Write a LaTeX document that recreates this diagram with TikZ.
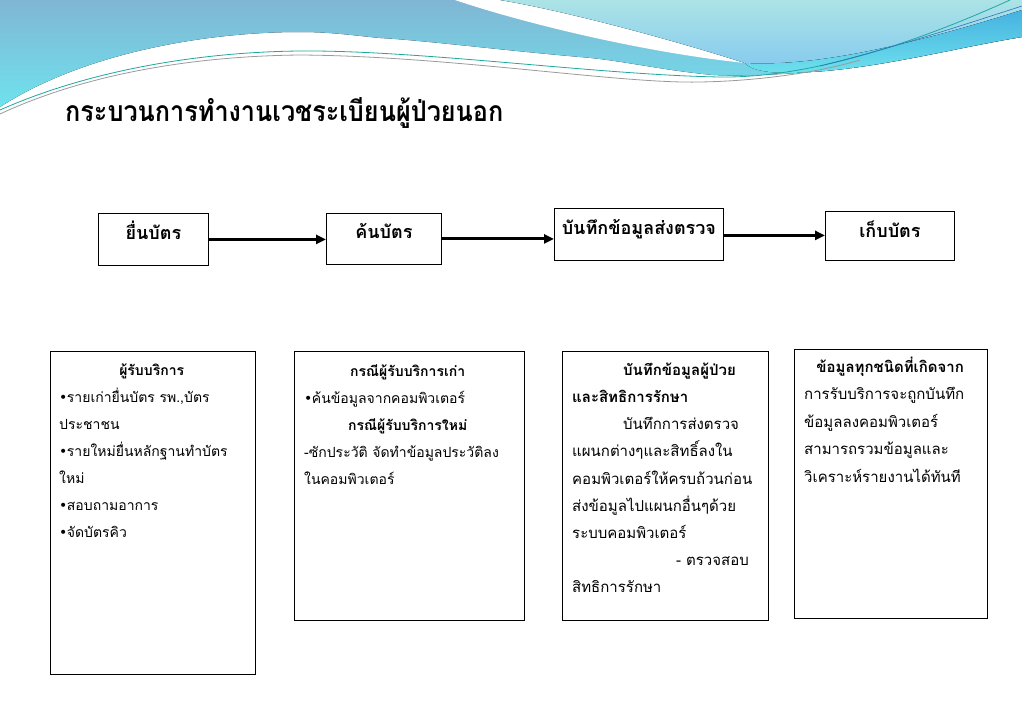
\documentclass[tikz,border=0pt]{standalone}
\usepackage{fontspec}
\usetikzlibrary{arrows.meta,calc}
\newfontfamily\thai[Script=Thai]{Loma}
\newfontfamily\bul{DejaVu Sans}
\newcommand\ctr[1]{\makebox[\hsize][c]{#1}}
\newcommand\blt{{\bul •}\hspace{-0.5pt}}
\definecolor{waveA}{HTML}{80B6D3}
\definecolor{waveB}{HTML}{6FE2EE}
\definecolor{waveC}{HTML}{ACE3E6}
\definecolor{waveD}{HTML}{86CBEE}
\definecolor{waveE}{HTML}{45B2E0}
\definecolor{lineteal}{HTML}{1FA89E}
\definecolor{lineblue}{HTML}{2F74B8}
\definecolor{linegrey}{HTML}{9A9A9A}
\tikzset{
  box/.style={draw=black, line width=0.8pt, fill=white, inner sep=0pt, anchor=north west},
  toplbl/.style={font=\thai\bfseries\fontsize{18}{20}\selectfont, inner sep=0pt, anchor=base},
  body/.style={font=\thai\fontsize{14}{27}\selectfont, align=left, inner sep=0pt, anchor=north west},
  flow/.style={line width=3pt, -{Triangle[length=10pt,width=9pt]}},
}
\begin{document}
\begin{tikzpicture}[x=1pt,y=-1pt]
\useasboundingbox (0,0) rectangle (1022,726);
\fill[white] (0,0) rectangle (1022,726);
% background waves
\fill[top color=waveA, bottom color=waveB] (0,0) -- (1022,0) -- (1022,37)
  .. controls (960,47) and (880,68) .. (811,72)
  .. controls (760,76) and (730,76) .. (713,75)
  .. controls (660,70) and (620,60) .. (580,57)
  .. controls (500,50) and (420,40) .. (380,38)
  .. controls (350,35) and (330,32) .. (300,32)
  .. controls (200,32) and (80,55) .. (0,107) -- cycle;
\fill[white] (455,0) .. controls (520,22) and (640,52) .. (745,63)
  .. controls (660,36) and (560,10) .. (500,0) -- cycle;
\fill[top color=waveC, bottom color=waveD] (500,0)
  .. controls (560,10) and (660,36) .. (745,63)
  .. controls (800,66) and (880,55) .. (1022,10) -- (1022,0) -- cycle;
\fill[top color=waveE, bottom color=waveB] (745,63)
  .. controls (800,66) and (880,55) .. (1022,10) -- (1022,37)
  .. controls (960,47) and (880,68) .. (811,72)
  .. controls (770,75) and (750,70) .. (745,63) -- cycle;
\draw[linegrey, line width=0.8pt] (0,114) .. controls (90,72) and (200,56) .. (300,55)
  .. controls (450,56) and (620,84) .. (700,82)
  .. controls (760,81) and (820,72) .. (860,60);
\draw[lineteal, line width=0.8pt] (0,110) .. controls (90,70) and (200,52) .. (300,51)
  .. controls (420,50) and (600,75) .. (720,77)
  .. controls (800,78) and (900,50) .. (1010,0);
\draw[lineblue, line width=0.6pt] (820,66) .. controls (900,46) and (960,26) .. (1022,6);
% title
\node[anchor=base west, inner sep=0pt] (title) at (65,121)
  {\resizebox{438pt}{24pt}{\thai\bfseries กระบวนการทำงานเวชระเบียนผู้ป่วยนอก}};
% top flow
\node[box, minimum width=110pt, minimum height=52pt] (k1) at (98,213) {};
\node[box, minimum width=115pt, minimum height=51pt] (k2) at (326,213) {};
\node[box, minimum width=169pt, minimum height=52pt] (k3) at (554,208) {};
\node[box, minimum width=129pt, minimum height=49pt] (k4) at (825,211) {};
\node[toplbl] (k1t) at (k1.center) {ยื่นบัตร};
\node[toplbl] (k2t) at (k2.center) {ค้นบัตร};
\node[toplbl] (k3t) at (k3.center) {บันทึกข้อมูลส่งตรวจ};
\node[toplbl] (k4t) at ([yshift=-2pt]k4.center) {เก็บบัตร};
\draw[flow] (k1.east) -- (k1.east -| k2.west);
\draw[flow] (k2.east) -- (k2.east -| k3.west);
\draw[flow] ([yshift=-1pt]k3.east) -- ([yshift=-1pt]k3.east -| k4.west);
% bottom boxes
\node[box, minimum width=205pt, minimum height=323pt] (b1) at (50,351) {};
\node[box, minimum width=230pt, minimum height=269pt] (b2) at (294,351) {};
\node[box, minimum width=206pt, minimum height=269pt] (b3) at (562,351) {};
\node[box, minimum width=193pt, minimum height=269pt] (b4) at (794,349) {};
\node[body, text width=185pt] (b1t) at (59,356.1) {\strut\ctr{\bfseries ผู้รับบริการ}\\
\blt รายเก่ายื่นบัตร~รพ.,บัตร\\
ประชาชน\\
\blt รายใหม่ยื่นหลักฐานทำบัตร\\
ใหม่\\
\blt สอบถามอาการ\\
\blt จัดบัตรคิว};
\node[body, text width=207pt] (b2t) at (304,357.1) {\strut\ctr{\bfseries กรณีผู้รับบริการเก่า}\\
\blt ค้นข้อมูลจากคอมพิวเตอร์\\
\ctr{\bfseries กรณีผู้รับบริการใหม่}\\
-ซักประวัติ~จัดทำข้อมูลประวัติลง\\
ในคอมพิวเตอร์};
\node[body, text width=194pt, font=\thai\fontsize{15}{27.2}\selectfont] (b3t) at (572,356.1) {\strut\hspace*{51pt}{\bfseries บันทึกข้อมูลผู้ป่วย}\\
{\bfseries และสิทธิการรักษา}\\
\hspace*{51pt}บันทึกการส่งตรวจ\\
แผนกต่างๆและสิทธิ์ลงใน\\
คอมพิวเตอร์ให้ครบถ้วนก่อน\\
ส่งข้อมูลไปแผนกอื่นๆด้วย\\
ระบบคอมพิวเตอร์\\
\hspace*{104pt}-~ตรวจสอบ\\
สิทธิการรักษา};
\node[body, text width=172pt, font=\thai\fontsize{15}{27.5}\selectfont] (b4t) at (804,353) {\strut\ctr{\bfseries ข้อมูลทุกชนิดที่เกิดจาก}\\
การรับบริการจะถูกบันทึก\\
ข้อมูลลงคอมพิวเตอร์\\
สามารถรวมข้อมูลและ\\
วิเคราะห์รายงานได้ทันที};
\end{tikzpicture}
\end{document}
